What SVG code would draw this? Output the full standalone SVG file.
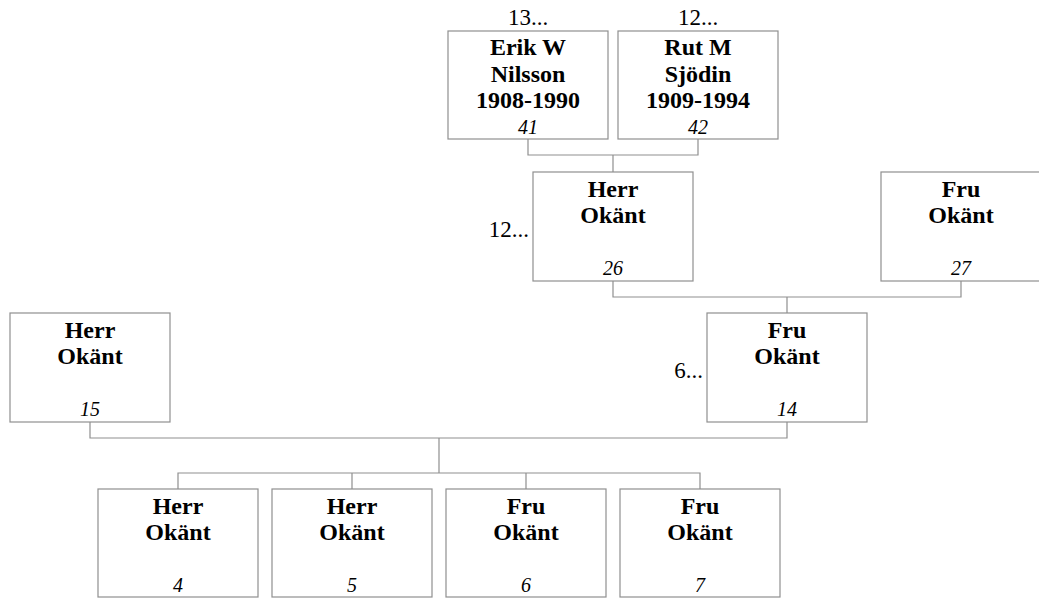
<svg xmlns="http://www.w3.org/2000/svg" width="1039" height="599" viewBox="0 0 1039 599">
<style>
.box{fill:#fff;stroke:#8f8f8f;stroke-width:1.2}
.name{font-family:"Liberation Serif","Times New Roman",serif;font-size:24px;font-weight:bold;text-anchor:middle;fill:#000}
.num{font-family:"Liberation Serif","Times New Roman",serif;font-size:20px;font-style:italic;text-anchor:middle;fill:#000}
.ref{font-family:"Liberation Serif","Times New Roman",serif;font-size:23px;fill:#000}
.con{fill:none;stroke:#8f8f8f;stroke-width:1.2}
</style>
<rect width="1039" height="599" fill="#fff"/>
<g id="connectors">
<path class="con" d="M528 139V155H698V139M613 155V172"/>
<path class="con" d="M613 281V297H961V281M787 297V313"/>
<path class="con" d="M90 422V438H787V422M439 438V473"/>
<path class="con" d="M178 489V473H700V489M352 473V489M526 473V489"/>
</g>
<g id="n41">
<text class="ref" x="528" y="25" text-anchor="middle">13...</text>
<rect class="box" x="448" y="31" width="160" height="108"/>
<text class="name" x="528" y="55">Erik W</text>
<text class="name" x="528" y="82">Nilsson</text>
<text class="name" x="528" y="108">1908-1990</text>
<text class="num" x="528" y="134">41</text>
</g>
<g id="n42">
<text class="ref" x="698" y="25" text-anchor="middle">12...</text>
<rect class="box" x="618" y="31" width="160" height="108"/>
<text class="name" x="698" y="55">Rut M</text>
<text class="name" x="698" y="82">Sjödin</text>
<text class="name" x="698" y="108">1909-1994</text>
<text class="num" x="698" y="134">42</text>
</g>
<g id="n26">
<text class="ref" x="529" y="237" text-anchor="end">12...</text>
<rect class="box" x="533" y="172" width="160" height="109"/>
<text class="name" x="613" y="197">Herr</text>
<text class="name" x="613" y="223">Okänt</text>
<text class="num" x="613" y="275">26</text>
</g>
<g id="n27">
<rect class="box" x="881" y="172" width="160" height="109"/>
<text class="name" x="961" y="197">Fru</text>
<text class="name" x="961" y="223">Okänt</text>
<text class="num" x="961" y="275">27</text>
</g>
<g id="n15">
<rect class="box" x="10" y="313" width="160" height="109"/>
<text class="name" x="90" y="338">Herr</text>
<text class="name" x="90" y="364">Okänt</text>
<text class="num" x="90" y="416">15</text>
</g>
<g id="n14">
<text class="ref" x="703" y="378" text-anchor="end">6...</text>
<rect class="box" x="707" y="313" width="160" height="109"/>
<text class="name" x="787" y="338">Fru</text>
<text class="name" x="787" y="364">Okänt</text>
<text class="num" x="787" y="416">14</text>
</g>
<g id="n4">
<rect class="box" x="98" y="489" width="160" height="108"/>
<text class="name" x="178" y="514">Herr</text>
<text class="name" x="178" y="540">Okänt</text>
<text class="num" x="178" y="592">4</text>
</g>
<g id="n5">
<rect class="box" x="272" y="489" width="160" height="108"/>
<text class="name" x="352" y="514">Herr</text>
<text class="name" x="352" y="540">Okänt</text>
<text class="num" x="352" y="592">5</text>
</g>
<g id="n6">
<rect class="box" x="446" y="489" width="160" height="108"/>
<text class="name" x="526" y="514">Fru</text>
<text class="name" x="526" y="540">Okänt</text>
<text class="num" x="526" y="592">6</text>
</g>
<g id="n7">
<rect class="box" x="620" y="489" width="160" height="108"/>
<text class="name" x="700" y="514">Fru</text>
<text class="name" x="700" y="540">Okänt</text>
<text class="num" x="700" y="592">7</text>
</g>
</svg>
